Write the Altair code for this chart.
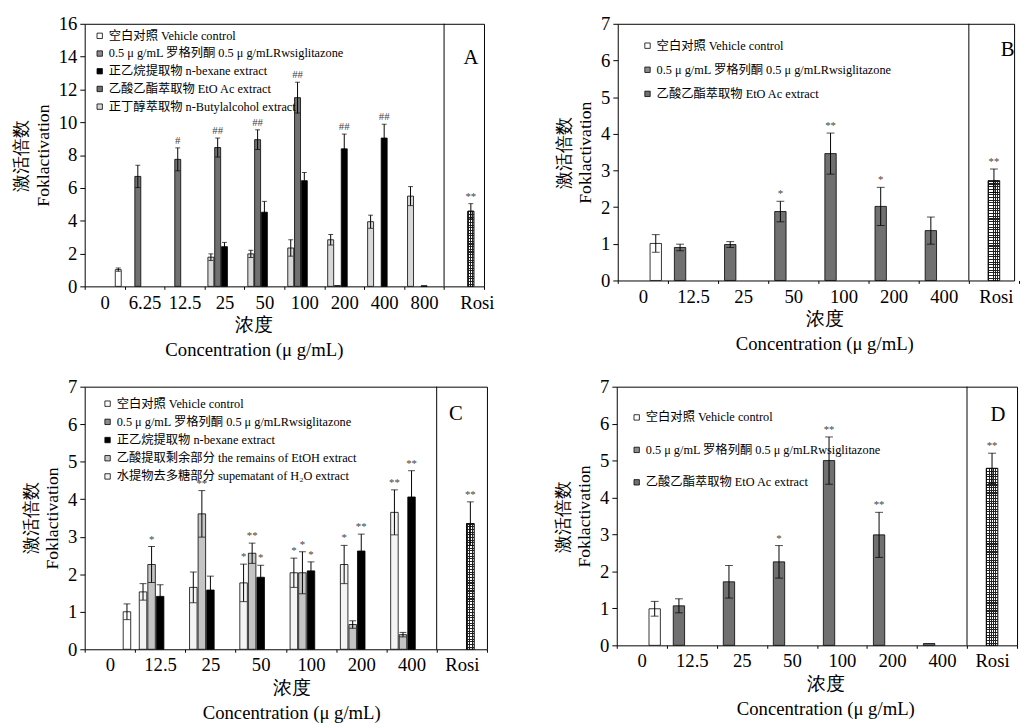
import altair as alt
import pandas as pd

SERIF = "'Liberation Serif', 'Noto Sans CJK SC', serif"
TFONT = "Liberation Serif"
N = None

# ---------------- series names (legend labels) ----------------
VEH = "空白对照 Vehicle control"
ROSI = "0.5 μ g/mL 罗格列酮 0.5 μ g/mLRwsiglitazone"
HEX = "正乙烷提取物 n-bexane extract"
ETOAC = "乙酸乙酯萃取物 EtO Ac extract"
BUTYL = "正丁醇萃取物 n-Butylalcohol extract"
REMAINS = "乙酸提取剩余部分 the remains of EtOH extract"
SUPER = "水提物去多糖部分 supematant of H₂O extract"

# ---------------- Panel A ----------------
A_GROUPS = ["0", "6.25", "12.5", "25", "50", "100", "200", "400", "800", "Rosi"]
A_VEH = [1.02, N, N, N, N, N, N, N, N, N]
A_VEH_ERR = [0.10, N, N, N, N, N, N, N, N, N]
A_ETOAC = [N, 6.70, 7.74, 8.46, 8.94, 11.50, 0.05, N, N, N]
A_ETOAC_ERR = [N, 0.68, 0.70, 0.58, 0.60, 0.94, N, N, N, N]
A_ETOAC_SIG = ["", "", "#", "##", "##", "##", "", "", "", ""]
A_HEX = [N, N, N, 2.42, 4.52, 6.44, 8.38, 9.04, 0.04, N]
A_HEX_ERR = [N, N, N, 0.26, 0.66, 0.50, 0.90, 0.84, N, N]
A_HEX_SIG = ["", "", "", "", "", "", "##", "##", "", ""]
A_BUTYL = [N, N, N, 1.78, 1.98, 2.34, 2.84, 3.94, 5.50, N]
A_BUTYL_ERR = [N, N, N, 0.20, 0.22, 0.50, 0.32, 0.40, 0.58, N]
A_ROSI = [N, N, N, N, N, N, N, N, N, 4.58]
A_ROSI_ERR = [N, N, N, N, N, N, N, N, N, 0.46]
A_ROSI_SIG = ["", "", "", "", "", "", "", "", "", "**"]

# ---------------- Panel B ----------------
B_GROUPS = ["0", "12.5", "25", "50", "100", "200", "400", "Rosi"]
B_VEH = [1.01, N, N, N, N, N, N, N]
B_VEH_ERR = [0.24, N, N, N, N, N, N, N]
B_ETOAC = [N, 0.90, 0.98, 1.88, 3.46, 2.02, 1.36, N]
B_ETOAC_ERR = [N, 0.09, 0.08, 0.28, 0.56, 0.52, 0.37, N]
B_ETOAC_SIG = ["", "", "", "*", "**", "*", "", ""]
B_ROSI = [N, N, N, N, N, N, N, 2.72]
B_ROSI_ERR = [N, N, N, N, N, N, N, 0.32]
B_ROSI_SIG = ["", "", "", "", "", "", "", "**"]

# ---------------- Panel C ----------------
C_GROUPS = ["0", "12.5", "25", "50", "100", "200", "400", "Rosi"]
C_VEH = [1.00, N, N, N, N, N, N, N]
C_VEH_ERR = [0.21, N, N, N, N, N, N, N]
C_SUPER = [N, 1.53, 1.65, 1.77, 2.04, 2.26, 3.65, N]
C_SUPER_ERR = [N, 0.22, 0.41, 0.50, 0.39, 0.51, 0.60, N]
C_SUPER_SIG = ["", "", "", "*", "*", "*", "**", ""]
C_REMAINS = [N, 2.26, 3.61, 2.56, 2.04, 0.66, 0.39, N]
C_REMAINS_ERR = [N, 0.48, 0.62, 0.27, 0.56, 0.10, 0.06, N]
C_REMAINS_SIG = ["", "*", "**", "**", "*", "", "", ""]
C_HEX = [N, 1.41, 1.58, 1.92, 2.09, 2.62, 4.06, N]
C_HEX_ERR = [N, 0.31, 0.37, 0.32, 0.24, 0.45, 0.70, N]
C_HEX_SIG = ["", "", "", "*", "*", "**", "**", ""]
C_ROSI = [N, N, N, N, N, N, N, 3.35]
C_ROSI_ERR = [N, N, N, N, N, N, N, 0.58]
C_ROSI_SIG = ["", "", "", "", "", "", "", "**"]

# ---------------- Panel D ----------------
D_GROUPS = ["0", "12.5", "25", "50", "100", "200", "400", "Rosi"]
D_VEH = [0.99, N, N, N, N, N, N, N]
D_VEH_ERR = [0.20, N, N, N, N, N, N, N]
D_ETOAC = [N, 1.07, 1.72, 2.26, 5.00, 2.99, 0.05, N]
D_ETOAC_ERR = [N, 0.19, 0.44, 0.44, 0.64, 0.61, N, N]
D_ETOAC_SIG = ["", "", "", "*", "**", "**", "", ""]
D_ROSI = [N, N, N, N, N, N, N, 4.79]
D_ROSI_ERR = [N, N, N, N, N, N, N, 0.41]
D_ROSI_SIG = ["", "", "", "", "", "", "", "**"]

FILL = {
    VEH: "#ffffff",
    ROSI: "#8c8c8c",
    HEX: "#000000",
    ETOAC: "#707070",
    BUTYL: "#d8d8d8",
    REMAINS: "#c4c4c4",
    SUPER: "#f4f4f4",
}


def build_rows(groups, series):
    rows = []
    for name, means, errs, sigs in series:
        if sigs is None:
            sigs = [""] * len(groups)
        for g, m, e, s in zip(groups, means, errs, sigs):
            if m is None:
                continue
            rows.append(dict(
                grp=g, series=name, mean=m,
                lo=(m - e) if e is not None else None,
                hi=(m + e) if e is not None else None,
                top=(m + e) if e is not None else m,
                sig=s,
            ))
    return pd.DataFrame(rows)


def stripes(n, vertical, base, line, lw=0.4):
    stops = []
    for i in range(n):
        a = i / n
        b = (i + lw) / n
        c = (i + 1) / n
        stops += [
            alt.GradientStop(offset=a, color=line),
            alt.GradientStop(offset=b, color=line),
            alt.GradientStop(offset=b, color=base),
            alt.GradientStop(offset=c, color=base),
        ]
    if vertical:
        return alt.LinearGradient(gradient="linear", stops=stops, x1=0, x2=1, y1=0, y2=0)
    return alt.LinearGradient(gradient="linear", stops=stops, x1=0, x2=0, y1=0, y2=1)


def panel(groups, series, offset_order, legend_order, ymax, ystep, width, height,
          letter, letter_y, letter_dx, legend_x, legend_y, legend_pad, title_x,
          cap, hatch_cols, hatch_rows, rosi_label_shift, x_extent=None):
    df = build_rows(groups, series)
    meta = pd.DataFrame({"grp": [groups[-1]], "label": [letter]})

    xs = dict(domain=groups, paddingInner=0, paddingOuter=0)
    if x_extent is not None:
        xs["range"] = [0, x_extent]
    xscale = alt.Scale(**xs)
    yscale = alt.Scale(domain=[0, ymax], nice=False, zero=True)
    xo = alt.XOffset("series:N", scale=alt.Scale(domain=offset_order,
                                                  paddingOuter=0.5, paddingInner=0.12))

    x_axis = alt.Axis(
        title=["浓度", "Concentration (μ g/mL)"], titleX=title_x,
        labelAngle=0, tickBand="extent", tickSize=3, labelFont=SERIF,
        labelFontSize=19, labelPadding=4, titleFont=TFONT, titleFontSize=19,
        titleFontWeight="normal", titleLineHeight=25, titlePadding=4,
        labelOverlap=False, domain=False,
        labelOffset={"condition": {"test": f"datum.value == '{groups[-1]}'",
                                   "value": rosi_label_shift}, "value": 0},
    )
    y_axis = alt.Axis(
        values=list(range(0, ymax + 1, ystep)),
        title=["激活倍数", "Foklactivation"], titleFont=TFONT, titleFontSize=18,
        titleFontWeight="normal", titleLineHeight=22, titlePadding=6,
        labelFont=SERIF, labelFontSize=19, tickSize=5, labelPadding=3,
        domain=False, grid=False,
    )

    X = alt.X("grp:N", scale=xscale, axis=x_axis)

    def Y(field):
        return alt.Y(field, scale=yscale, axis=y_axis)

    bars = alt.Chart(df).mark_bar(stroke="black", strokeWidth=0.8).encode(
        x=X,
        xOffset=xo,
        y=Y("mean:Q"),
        color=alt.Color(
            "series:N",
            scale=alt.Scale(domain=legend_order, range=[FILL[s] for s in legend_order]),
            legend=alt.Legend(
                orient="none", legendX=legend_x, legendY=legend_y, title=None,
                symbolType="square", symbolSize=30, symbolStrokeColor="black",
                symbolStrokeWidth=0.8, labelFont=SERIF, labelFontSize=12.5,
                labelOffset=3, labelLimit=500, rowPadding=legend_pad, padding=0,
                symbolOpacity=1,
            ),
        ),
    )

    rosi = alt.Chart(df).transform_filter(alt.datum.series == ROSI)
    hatch_v = rosi.mark_bar(fill=stripes(hatch_cols, True, "#ffffff", "#222222")).encode(
        x=X, xOffset=xo, y=Y("mean:Q"))
    hatch_h = rosi.mark_bar(fill=stripes(hatch_rows, False, "rgba(0,0,0,0)", "#222222"),
                            stroke="black", strokeWidth=0.8).encode(
        x=X, xOffset=xo, y=Y("mean:Q"))

    err = alt.Chart(df).transform_filter("isValid(datum.lo)")
    err_line = err.mark_rule(color="black", strokeWidth=1).encode(
        x=X, xOffset=xo, y=Y("lo:Q"), y2="hi:Q")
    caps = err.transform_fold(["lo", "hi"], as_=["end", "v"]).mark_tick(
        color="black", thickness=1, size=cap).encode(
        x=X, xOffset=xo, y=Y("v:Q"))

    sig = alt.Chart(df).transform_filter("datum.sig != ''").mark_text(
        font=SERIF, fontSize=11, color="#444444", baseline="bottom", dy=-2).encode(
        x=X, xOffset=xo, y=Y("top:Q"), text="sig:N")

    divider = alt.Chart(meta).mark_rule(color="black", strokeWidth=1).encode(
        x=alt.X("grp:N", scale=xscale, axis=x_axis, bandPosition=0))
    letter_mark = alt.Chart(meta).mark_text(font=SERIF, fontSize=21, dx=letter_dx).encode(
        x=X, y=alt.value(letter_y), text="label:N")

    return alt.layer(bars, hatch_v, hatch_h, err_line, caps, sig, divider, letter_mark).properties(
        width=width, height=height)


pA = panel(
    A_GROUPS,
    [(VEH, A_VEH, A_VEH_ERR, None), (ETOAC, A_ETOAC, A_ETOAC_ERR, A_ETOAC_SIG),
     (HEX, A_HEX, A_HEX_ERR, A_HEX_SIG), (BUTYL, A_BUTYL, A_BUTYL_ERR, None),
     (ROSI, A_ROSI, A_ROSI_ERR, A_ROSI_SIG)],
    [BUTYL, ETOAC, HEX, ROSI, VEH], [VEH, ROSI, HEX, ETOAC, BUTYL],
    16, 2, 406, 267, "A", 35, 7, 9, 6, 5, 172, 5, 3, 28, 13)

pB = panel(
    B_GROUPS,
    [(VEH, B_VEH, B_VEH_ERR, None), (ETOAC, B_ETOAC, B_ETOAC_ERR, B_ETOAC_SIG),
     (ROSI, B_ROSI, B_ROSI_ERR, B_ROSI_SIG)],
    [ETOAC, ROSI, VEH], [VEH, ROSI, ETOAC],
    7, 1, 403, 261, "B", 27, 14, 24, 16, 11.5, 210, 8, 5, 37, 2, x_extent=408)

pC = panel(
    C_GROUPS,
    [(VEH, C_VEH, C_VEH_ERR, None), (SUPER, C_SUPER, C_SUPER_ERR, C_SUPER_SIG),
     (REMAINS, C_REMAINS, C_REMAINS_ERR, C_REMAINS_SIG), (HEX, C_HEX, C_HEX_ERR, C_HEX_SIG),
     (ROSI, C_ROSI, C_ROSI_ERR, C_ROSI_SIG)],
    [SUPER, REMAINS, HEX, ROSI, VEH], [VEH, ROSI, HEX, REMAINS, SUPER],
    7, 1, 409, 267, "C", 28, -6, 17, 11, 5.5, 210, 7, 3, 47, 0)

pD = panel(
    D_GROUPS,
    [(VEH, D_VEH, D_VEH_ERR, None), (ETOAC, D_ETOAC, D_ETOAC_ERR, D_ETOAC_SIG),
     (ROSI, D_ROSI, D_ROSI_ERR, D_ROSI_SIG)],
    [ETOAC, ROSI, VEH], [VEH, ROSI, ETOAC],
    7, 1, 407, 263, "D", 29, 6, 14, 25, 20, 212, 8, 5, 66, 0)

res = dict(color="independent", x="independent", y="independent", xOffset="independent")
top = alt.hconcat(pA, pB, spacing=61).resolve_scale(**res)
bottom = alt.hconcat(pC, pD, spacing=67).resolve_scale(**res)

chart = alt.vconcat(top, bottom, spacing=17).resolve_scale(**res).properties(
    padding={"left": 4, "top": 0, "right": 0, "bottom": 0}, background="white"
).configure(
    font=SERIF,
    style={"guide-title": {"font": TFONT}, "guide-label": {"font": SERIF}},
).configure_view(stroke="black", strokeWidth=1).configure_axis(
    domainColor="black", tickColor="black", labelColor="black", titleColor="black",
    labelFont=SERIF, titleFont=TFONT
).configure_legend(labelColor="black", labelFont=SERIF).configure_text(font=SERIF)

chart.save("out.html", embed_options={"renderer": "svg", "actions": False})
